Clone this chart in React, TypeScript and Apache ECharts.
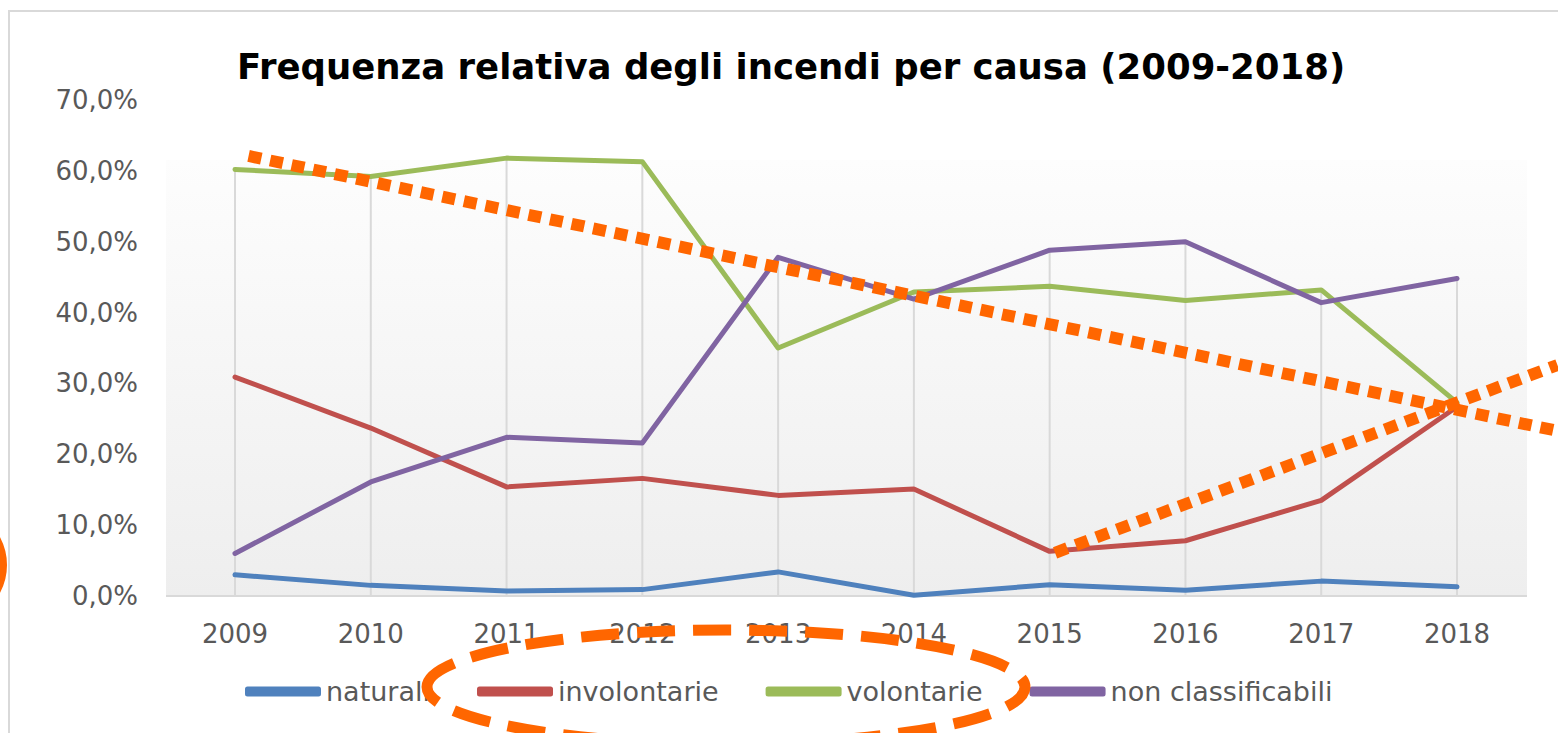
import React, { useEffect, useRef } from "react";
import * as echarts from "echarts";

const years = ["2009", "2010", "2011", "2012", "2013", "2014", "2015", "2016", "2017", "2018"];
const naturali = [3.0, 1.5, 0.7, 0.9, 3.4, 0.1, 1.6, 0.8, 2.1, 1.3];
const involontarie = [30.9, 23.7, 15.4, 16.6, 14.2, 15.1, 6.3, 7.8, 13.5, 26.7];
const volontarie = [60.2, 59.2, 61.8, 61.3, 35.0, 42.9, 43.7, 41.7, 43.2, 27.3];
const nonClassificabili = [6.0, 16.1, 22.4, 21.6, 47.8, 41.9, 48.8, 50.0, 41.4, 44.8];

const seriesNames = ["naturali", "involontarie", "volontarie", "non classificabili"];
const seriesColors = ["#4f81bd", "#c0504d", "#9bbb59", "#8064a2"];
const seriesValues = [naturali, involontarie, volontarie, nonClassificabili];

const yMin = 0;
const yMax = 70;
const yInterval = 10;

// hand-drawn trend annotations: [category index, percent]
const trendVolontarie = [[0.1, 62.1], [9.74, 23.3]];
const trendInvolontarie = [[6.04, 6.1], [9.74, 32.6]];

const TITLE = "Frequenza relativa degli incendi per causa (2009-2018)";
const FONT = "DejaVu Sans";
const ORANGE = "#ff6600";

export default function App() {
  const ref = useRef<HTMLDivElement>(null);

  useEffect(() => {
    if (!ref.current) return;
    const chart = echarts.init(ref.current, null, { renderer: "svg" });

    const dropData = years.map((_, i) => [i, Math.max(...seriesValues.map((s) => s[i]))]);

    const baseGraphic: any[] = [
      {
        type: "rect",
        z: -5,
        silent: true,
        shape: { x: 9, y: 11, width: 1600, height: 800 },
        style: { fill: "#ffffff", stroke: "#d9d9d9", lineWidth: 2 },
      },
      {
        type: "rect",
        z: -4,
        silent: true,
        shape: { x: 166, y: 160, width: 1361, height: 436 },
        style: {
          fill: new echarts.graphic.LinearGradient(0, 0, 0, 1, [
            { offset: 0, color: "#fdfdfd" },
            { offset: 1, color: "#eeeeee" },
          ]),
        },
      },
      {
        type: "line",
        z: -3,
        silent: true,
        shape: { x1: 166, y1: 596, x2: 1527, y2: 596 },
        style: { stroke: "#d9d9d9", lineWidth: 2 },
      },
    ];

    const option: any = {
      animation: false,
      backgroundColor: "#ffffff",
      title: {
        text: TITLE,
        left: 232,
        top: 43,
        textStyle: { fontFamily: FONT, fontWeight: "bold", fontSize: 35.5, color: "#000000" },
      },
      legend: {
        data: seriesNames,
        left: 240,
        top: 673,
        icon: "roundRect",
        itemWidth: 76,
        itemHeight: 10,
        itemGap: 47,
        textStyle: { fontFamily: FONT, fontSize: 27, color: "#595959" },
      },
      grid: { left: 235, right: 101, top: 100, bottom: 137, containLabel: false },
      xAxis: {
        type: "category",
        data: years,
        boundaryGap: false,
        axisLine: { show: false },
        axisTick: { show: false },
        splitLine: { show: false },
        axisLabel: { fontFamily: FONT, fontSize: 26, color: "#595959", margin: 25 },
      },
      yAxis: {
        type: "value",
        min: yMin,
        max: yMax,
        interval: yInterval,
        axisLine: { show: false },
        axisTick: { show: false },
        splitLine: { show: false },
        axisLabel: {
          fontFamily: FONT,
          fontSize: 26,
          color: "#595959",
          margin: 97,
          formatter: (v: number) => v.toFixed(1).replace(".", ",") + "%",
        },
      },
      graphic: baseGraphic,
      series: [
        {
          type: "custom",
          name: "drop",
          z: 1,
          silent: true,
          data: dropData,
          renderItem: (params: any, api: any) => {
            const top = api.coord([api.value(0), api.value(1)]);
            const bot = api.coord([api.value(0), 0]);
            return {
              type: "line",
              shape: { x1: top[0], y1: top[1], x2: bot[0], y2: bot[1] },
              style: { stroke: "#d9d9d9", lineWidth: 2 },
            };
          },
        },
        ...seriesNames.map((name, k) => ({
          type: "line",
          name,
          data: seriesValues[k],
          symbol: "none",
          showSymbol: false,
          z: 3 + k,
          color: seriesColors[k],
          lineStyle: { width: 5, color: seriesColors[k], cap: "round", join: "round" },
        })),
      ],
    };

    chart.setOption(option);

    let p0 = chart.convertToPixel({ gridIndex: 0 } as any, [0, 0]) as any;
    let p1 = chart.convertToPixel({ gridIndex: 0 } as any, [9, 70]) as any;
    if (!p0 || !p1 || isNaN(p0[0]) || isNaN(p1[0])) {
      p0 = [235, 596];
      p1 = [1457, 100];
    }
    const toPx = (d: number[]) => [
      p0[0] + (d[0] / 9) * (p1[0] - p0[0]),
      p0[1] + (d[1] / 70) * (p1[1] - p0[1]),
    ];
    const trendLine = (pts: number[][]) => {
      const a = toPx(pts[0]);
      const b = toPx(pts[1]);
      return {
        type: "line",
        z: 100,
        silent: true,
        shape: { x1: a[0], y1: a[1], x2: b[0], y2: b[1] },
        style: { stroke: ORANGE, lineWidth: 12, lineDash: [13, 9], lineCap: "butt" },
      };
    };

    chart.setOption({
      graphic: [
        ...baseGraphic,
        trendLine(trendVolontarie),
        trendLine(trendInvolontarie),
        {
          type: "ellipse",
          z: 100,
          silent: true,
          shape: { cx: 726, cy: 687, rx: 299, ry: 57 },
          style: { fill: "none", stroke: ORANGE, lineWidth: 11, lineDash: [38, 18] },
        },
        {
          type: "circle",
          z: 100,
          silent: true,
          shape: { cx: -52, cy: 565, r: 55 },
          style: { fill: "none", stroke: ORANGE, lineWidth: 8 },
        },
      ],
    } as any, { replaceMerge: ["graphic"] } as any);

    return () => chart.dispose();
  }, []);

  return (
    <div
      ref={ref}
      style={{ position: "fixed", left: 0, top: 0, width: 1558, height: 733, background: "#fff" }}
    />
  );
}
